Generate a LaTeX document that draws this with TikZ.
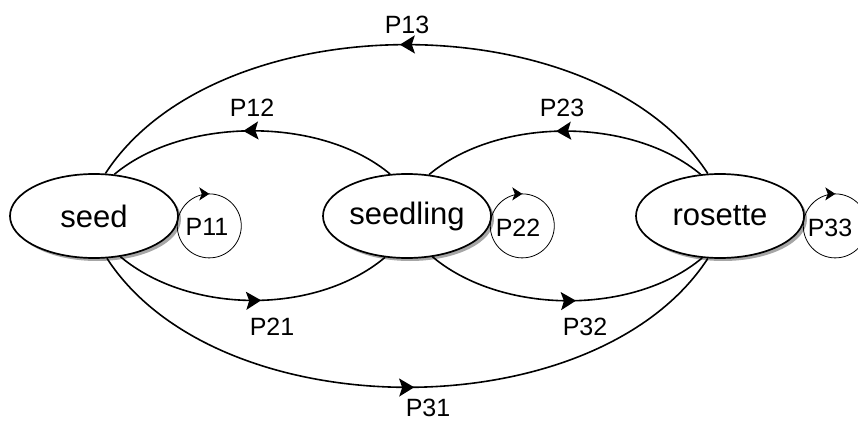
\documentclass[tikz,border=0pt]{standalone}
\usepackage{fontspec}
\setmainfont{Liberation Sans}
\usetikzlibrary{shapes.geometric,arrows.meta,decorations.markings,shadows}

\begin{document}
\begin{tikzpicture}[x=1pt,y=1pt,
  state/.style={ellipse, draw, line width=1.7pt, fill=white,
    minimum width=168pt, minimum height=84pt, inner sep=0pt,
    font=\fontsize{31}{36}\selectfont,
    drop shadow={shadow xshift=3pt, shadow yshift=-3pt, fill=black!35, opacity=1}},
  lab/.style={font=\fontsize{25}{30}\selectfont, inner sep=0pt},
  trans/.style={line width=1.6pt, postaction={decorate},
    decoration={markings, mark=at position #1 with {\arrow{Stealth[length=15pt,width=18pt,inset=3pt]}}}},
  trans/.default=0.5,
  selfloop/.style={line width=0.8pt, postaction={decorate},
    decoration={markings, mark=at position 0.2 with {\arrow{Stealth[length=10pt,width=13pt,inset=2.5pt]}}}}
]
\useasboundingbox (0,0) rectangle (858,421);

\node[state] (seed) at (94,205) {seed};
\node[state] (seedling) at (407,205) {seedling};
\node[state] (rosette) at (720,205) {rosette};

% self loops
\draw[selfloop] (seed.east) arc[start angle=162, delta angle=-360, radius=32];
\draw[selfloop] (seedling.east) arc[start angle=162, delta angle=-360, radius=32];
\draw[selfloop] (rosette.east) arc[start angle=162, delta angle=-360, radius=32];

% transitions
\draw[trans=0.51] (rosette.106) to[out=123, in=57, out distance=205pt, in distance=205pt] (seed.75);
\draw[trans=0.53] (seedling.112) to[out=140, in=40, out distance=90pt, in distance=90pt] (seed.64);
\draw[trans=0.53] (rosette.115) to[out=140, in=40, out distance=90pt, in distance=90pt] (seedling.62);
\draw[trans=0.53] (seed.-57) to[out=-40, in=-140, out distance=90pt, in distance=90pt] (seedling.-118);
\draw[trans=0.53] (seedling.-58) to[out=-40, in=-140, out distance=90pt, in distance=90pt] (rosette.-113);
\draw[trans=0.51] (seed.-73) to[out=-57, in=-123, out distance=205pt, in distance=205pt] (rosette.-106);

% labels
\node[lab] (l13) at (407,396) {P13};
\node[lab] (l12) at (252,313) {P12};
\node[lab] (l23) at (562,313) {P23};
\node[lab] (l21) at (272,94) {P21};
\node[lab] (l32) at (585,94) {P32};
\node[lab] (l31) at (428,13) {P31};
\node[lab] (l11) at (207,194) {P11};
\node[lab] (l22) at (518,193) {P22};
\node[lab] (l33) at (830,193) {P33};
\end{tikzpicture}
\end{document}
